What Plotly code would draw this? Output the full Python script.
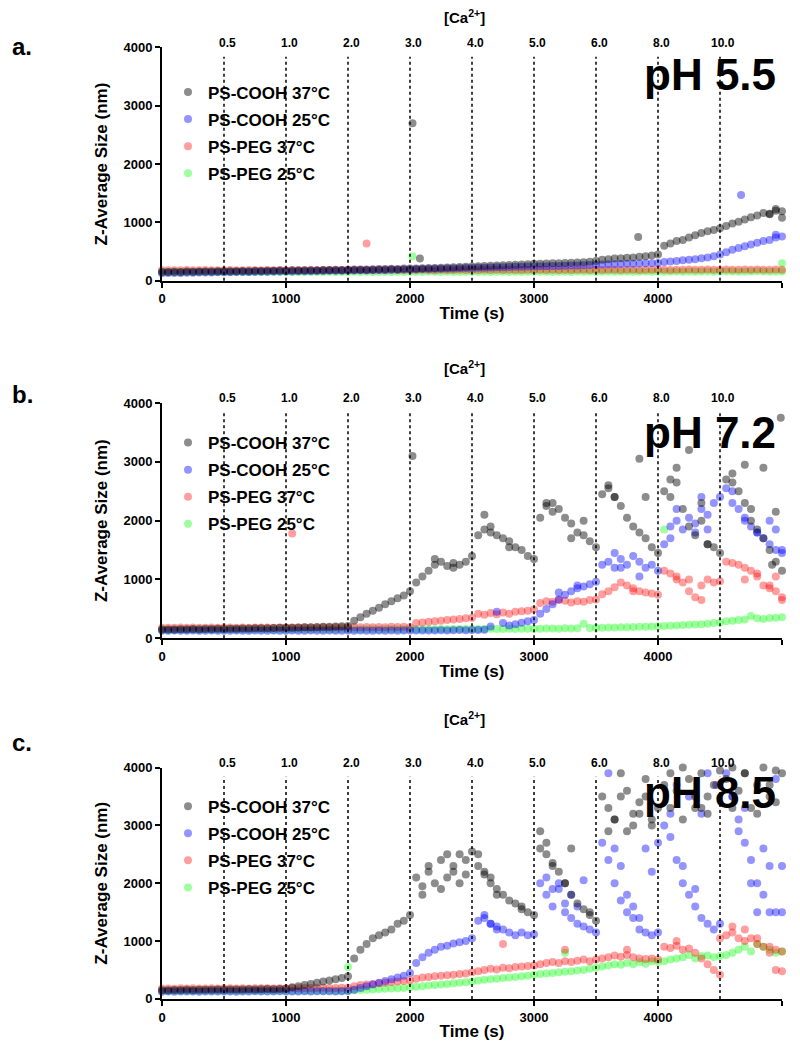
import plotly.graph_objects as go

# ---------------- data ----------------
TIME = list(range(0, 5001, 50))  # sampling grid (s)
CA_TIMES = [500, 1000, 1500, 2000, 2500, 3000, 3500, 4000, 4500]
CA_LABELS = ["0.5", "1.0", "2.0", "3.0", "4.0", "5.0", "6.0", "8.0", "10.0"]
SERIES = ["PS-COOH 37°C", "PS-COOH 25°C", "PS-PEG 37°C", "PS-PEG 25°C"]
PANEL_LETTERS = ["a.", "b.", "c."]
PANEL_PH = ["pH 5.5", "pH 7.2", "pH 8.5"]

# ---- panel a : pH 5.5 ----
A_COOH37 = [150,152,155,150,158,155,160,158,160,162,165,
            163,165,168,165,170,168,172,170,175,172,
            178,175,180,182,180,185,183,188,186,190,
            192,195,193,198,200,202,205,203,208,210,
            212,215,218,220,225,228,230,235,240,245,
            250,255,258,262,265,270,275,278,282,290,
            292,295,298,300,305,310,315,318,325,340,
            360,370,380,385,395,400,410,420,435,450,
            600,640,680,700,740,780,820,850,870,900,
            940,980,1010,1050,1090,1120,1160,1140,1200,1190]
A_COOH37_X = [2020, 2080, 3840, 4950, 5000, 4900]
A_COOH37_Y = [2700, 380, 750, 1230, 1080, 1150]
A_COOH25 = [130,132,135,133,138,136,140,140,142,145,147,
            146,148,150,150,152,155,153,157,158,160,
            160,162,163,165,166,168,170,170,172,175,
            176,178,180,182,183,185,188,190,192,195,
            197,200,202,205,207,210,212,215,218,220,
            222,225,228,230,232,235,238,240,243,245,
            248,250,252,255,258,260,262,265,268,275,
            280,282,285,287,290,292,295,298,300,305,
            320,330,340,350,360,370,385,400,420,450,
            490,530,560,590,620,650,680,700,740,760]
A_COOH25_X = [4670, 4950]
A_COOH25_Y = [1470, 790]
A_PEG37 = [180,178,182,179,183,180,181,184,179,182,180,
           183,181,179,184,182,180,183,181,185,182,
           180,184,182,186,181,183,185,182,184,186,
           183,185,181,186,184,182,187,185,183,186,
           184,187,185,182,188,186,184,187,185,183,
           186,188,184,187,185,189,186,184,188,186,
           187,185,189,186,188,184,190,187,185,188,
           186,189,187,185,190,188,186,189,187,191,
           188,186,190,188,192,187,189,191,188,190,
           192,189,187,191,189,193,190,188,192,190]
A_PEG37_X = [1650]
A_PEG37_Y = [640]
A_PEG25 = [150,148,152,149,151,148,150,153,149,151,150,
           152,149,151,148,153,150,152,149,151,153,
           150,152,149,154,151,150,153,151,149,152,
           154,151,153,150,152,155,151,153,150,154,
           152,150,155,153,151,154,152,150,155,153,
           151,154,152,156,153,151,155,152,154,156,
           153,155,152,156,154,152,157,155,153,156,
           154,157,155,153,158,156,154,157,155,158,
           156,154,158,156,159,155,157,159,156,158,
           160,157,155,159,157,161,158,156,160,158]
A_PEG25_X = [2020, 5000]
A_PEG25_Y = [420, 300]

# ---- panel b : pH 7.2 ----
B_COOH37 = [150,152,150,155,153,158,156,160,158,162,160,
            165,163,168,166,170,172,170,175,178,180,
            182,185,188,190,192,195,198,200,205,210,
            300,360,420,470,520,580,630,680,730,800,
            950,1050,1150,1250,1300,1230,1280,1250,1300,1400,
            1750,1850,1800,1750,1700,1650,1550,1500,1400,1350,
            2050,2250,2300,2200,2050,1950,1800,1750,1650,1550,
            2450,2600,2400,2250,2050,1900,1800,1700,1550,1450,
            2500,2400,2650,2200,1900,1750,2000,1600,1550,1450,
            2700,2650,2500,2300,2000,1850,1700,1500,1300,1150]
B_COOH37_X = [2020, 2600, 2650, 3100, 3150, 3400, 3600, 3650, 3850, 3900,
              4100, 4150, 4250, 4350, 4400, 4600, 4700, 4750, 4850, 4920,
              4950, 4990, 2200, 2350, 2800, 3300]
B_COOH37_Y = [3100, 2100, 1900, 2300, 2150, 2000, 2550, 2400, 3050, 2400,
              2700, 2900, 3200, 2300, 1600, 2800, 2950, 2200, 2900, 1250,
              2150, 3750, 1350, 1200, 1550, 1700]
B_COOH25 = [130,128,132,130,128,133,130,128,132,130,128,
            130,132,128,130,133,130,128,132,130,130,
            132,130,128,133,130,130,132,128,130,132,
            130,133,130,128,132,130,133,130,132,135,
            133,135,132,135,137,135,138,140,138,140,
            142,145,200,450,260,220,240,265,290,310,
            420,500,580,660,740,800,850,880,920,960,
            1250,1300,1200,1350,1250,1400,1300,1200,1250,1150,
            1600,1900,2000,1850,2050,1950,2200,2100,2300,2400,
            2550,2500,2200,2000,1900,1800,1700,1600,1500,1450]
B_COOH25_X = [3650, 3700, 3850, 4100, 4150, 4300, 4350, 4400, 4600, 4700,
              4800, 4900, 4950, 5000, 3200, 3350]
B_COOH25_Y = [1450, 1200, 1050, 1700, 2200, 1800, 2400, 1850, 2300, 2050,
              1800, 2000, 1850, 1500, 780, 900]
B_PEG37 = [180,182,178,183,180,185,182,180,184,181,183,
           185,182,184,180,186,183,185,182,184,186,
           183,185,187,184,186,188,185,187,190,188,
           190,188,192,190,193,190,195,192,195,190,
           260,270,280,290,300,310,320,330,340,350,
           420,400,430,410,440,420,450,460,470,490,
           600,630,620,650,640,610,630,620,650,660,
           750,800,870,950,900,850,800,780,760,740,
           1150,1100,1050,950,800,700,900,1000,950,970,
           1300,1280,1250,1200,1150,1050,900,850,800,700]
B_PEG37_X = [1050, 4250, 4350, 4700, 4800, 4900, 4950, 5000, 3800, 4150]
B_PEG37_Y = [1780, 1000, 650, 1000, 1100, 900, 1050, 650, 800, 1000]
B_PEG25 = [145,148,146,150,147,149,146,150,148,147,150,
           149,147,150,148,151,149,150,148,152,150,
           151,149,152,150,153,151,150,152,154,152,
           153,151,155,153,152,155,154,156,153,155,
           156,154,157,155,158,156,159,157,160,158,
           160,158,162,160,158,162,160,163,161,165,
           163,166,168,165,170,168,172,250,175,180,
           182,185,183,188,190,192,195,198,200,205,
           210,215,220,225,230,235,240,250,260,270,
           290,300,310,320,380,340,330,345,350,360]
B_PEG25_X = [4050]
B_PEG25_Y = [1850]

# ---- panel c : pH 8.5 ----
C_COOH37 = [150,152,155,153,157,155,158,160,158,162,160,
            162,165,163,167,165,168,170,168,172,175,
            200,220,240,260,280,300,320,340,360,390,
            700,850,950,1050,1100,1150,1200,1300,1350,1450,
            2100,1950,2300,2000,2400,2100,2200,2500,2400,2550,
            2300,2200,2100,1900,1800,1700,1650,1550,1500,1450,
            2600,2500,2350,2200,2000,1800,1650,1550,1450,1350,
            3500,3300,3100,3900,3600,3200,3400,3800,3000,3300,
            3700,3900,3600,4000,3800,3300,3900,3500,3700,3950,
            3800,4000,3600,3900,3300,3700,4000,3500,3950,3900]
C_COOH37_X = [2100, 2150, 2250, 2300, 2350, 2450, 2400, 2550, 2600, 2650,
              3100, 3150, 3250, 3300, 3450, 3600, 3650, 3700, 3750, 3800,
              3850, 3900, 3950, 4100, 4200, 4300, 4350, 4400, 4600, 4700,
              4800, 4900, 4950, 2700, 2900, 3050]
C_COOH37_Y = [1800, 2200, 1900, 2500, 2300, 2150, 2000, 2500, 2150, 2000,
              2700, 2300, 2000, 2600, 1500, 2900, 3100, 3500, 2900, 3000,
              3200, 3500, 3100, 3300, 3100, 3500, 3300, 3200, 3300, 3900,
              3200, 3700, 3400, 1800, 1600, 2900]
C_COOH25 = [125,128,126,130,127,129,126,130,128,127,130,
            128,126,130,127,131,128,130,127,132,130,
            130,128,132,130,133,131,132,130,134,135,
            160,190,220,250,280,310,340,370,400,450,
            620,720,800,850,900,920,960,980,1000,1050,
            1350,1400,1300,1250,1200,1150,1100,1150,1100,1120,
            2000,1800,1600,1900,1500,1400,1300,1250,1200,1150,
            2700,2400,2000,1700,1500,1400,1200,1150,1100,1150,
            3000,2800,2400,2000,1800,1600,1400,1300,1200,1300,
            3900,3500,3100,2700,2400,2000,1800,1500,1500,1500]
C_COOH25_X = [2600, 2650, 2700, 3100, 3150, 3200, 3250, 3300, 3350, 3400,
              3600, 3650, 3700, 3750, 3800, 3850, 3900, 3950, 4000, 4100,
              4150, 4200, 4250, 4300, 4350, 4400, 4600, 4650, 4700, 4750,
              4800, 4850, 4900, 4950, 5000, 4470]
C_COOH25_Y = [1450, 1300, 1200, 2100, 1900, 2000, 1650, 1800, 1600, 2050,
              3900, 2600, 2300, 1800, 1600, 1400, 2600, 2200, 2700, 3200,
              3700, 2300, 3500, 1900, 3200, 3900, 3500, 2900, 3300, 2000,
              1500, 2600, 2300, 3800, 2300, 3700]
C_PEG37 = [180,182,178,183,180,185,182,180,184,181,183,
           185,182,184,180,186,183,185,182,184,186,
           188,185,190,187,189,192,190,188,193,195,
           220,240,250,260,270,280,290,300,310,320,
           350,370,380,390,400,410,420,430,440,460,
           480,500,520,510,540,530,550,560,570,580,
           600,620,640,620,650,640,660,680,650,680,
           700,720,750,730,760,720,700,690,700,680,
           900,880,920,850,870,800,700,600,500,420,
           1100,1150,1050,1000,1050,950,900,800,850,820]
C_PEG37_X = [2750, 3250, 3750, 4150, 4600, 4700, 4800, 4950, 5000, 4900, 4500]
C_PEG37_Y = [950, 850, 850, 1000, 1250, 1200, 1050, 500, 480, 900, 1050]
C_PEG25 = [140,142,140,143,141,140,143,142,140,142,141,
           142,140,143,141,142,140,143,141,142,140,
           141,143,140,142,141,143,142,140,142,141,
           150,155,160,165,170,175,180,185,190,200,
           210,220,230,240,250,260,270,280,290,300,
           320,330,340,350,360,370,380,390,400,420,
           430,440,450,460,470,480,490,500,520,540,
           560,580,600,590,620,600,640,610,650,640,
           650,680,700,720,760,700,740,750,720,740,
           760,800,850,900,820,950,900,850,800,820]
C_PEG25_X = [1500, 3250]
C_PEG25_Y = [550, 800]

PANELS = [
    [(A_COOH37, A_COOH37_X, A_COOH37_Y), (A_COOH25, A_COOH25_X, A_COOH25_Y),
     (A_PEG37, A_PEG37_X, A_PEG37_Y), (A_PEG25, A_PEG25_X, A_PEG25_Y)],
    [(B_COOH37, B_COOH37_X, B_COOH37_Y), (B_COOH25, B_COOH25_X, B_COOH25_Y),
     (B_PEG37, B_PEG37_X, B_PEG37_Y), (B_PEG25, B_PEG25_X, B_PEG25_Y)],
    [(C_COOH37, C_COOH37_X, C_COOH37_Y), (C_COOH25, C_COOH25_X, C_COOH25_Y),
     (C_PEG37, C_PEG37_X, C_PEG37_Y), (C_PEG25, C_PEG25_X, C_PEG25_Y)],
]

# ---------------- styling ----------------
COLORS = ["#000000", "#0000ff", "#ff0000", "#00ff00"]
OPAC = [0.45, 0.42, 0.38, 0.38]
FONT = "Liberation Sans, Arial, sans-serif"
OFF = 8                      # page body margin
W, H = 784, 1042
L_T, R_T = 162, 782          # target pixel x of plot left / right (window coords)
L = L_T - OFF
R = OFF + W - R_T
TOPS = [48, 403, 767]
BOTS = [281, 638, 998]
LEG_TOP = [75, 425, 788]
CA_TITLE_Y = [17, 368, 718]
LETTER_Y = [47, 395, 742]
PH_Y = [75, 432, 792]

def py(p):
    q = (p - 7.8) / 0.984     # empirical correction of the rendered offset
    return 1 - (q - OFF) / H

def px(p):
    return (p - L_T) / (R_T - L_T)

fig = go.Figure()
legend_names = ["legend", "legend2", "legend3"]
for k, panel in enumerate(PANELS):
    xa = "x" if k == 0 else f"x{k+1}"
    ya = "y" if k == 0 else f"y{k+1}"
    # draw in reverse so gray is on top
    for s in [3, 2, 1, 0]:
        vals, ex, ey = panel[s]
        xs = TIME[:len(vals)] + ex
        ys = vals + ey
        fig.add_trace(go.Scatter(
            x=xs, y=ys, mode="markers", name=SERIES[s],
            xaxis=xa, yaxis=ya, legend=legend_names[k],
            legendgroup=f"p{k}s{s}", legendrank=s + 1,
            marker=dict(color=COLORS[s], size=8, opacity=OPAC[s], line=dict(width=0)),
            cliponaxis=False, hoverinfo="skip"))

layout = dict(
    width=W, height=H, paper_bgcolor="white", plot_bgcolor="white",
    margin=dict(l=L, r=R, t=0, b=0),
    font=dict(family=FONT, color="black", size=13),
    showlegend=True,
)
axis_common = dict(showline=True, linecolor="black", linewidth=2, ticks="outside",
                   ticklen=5, tickwidth=2, tickcolor="black", showgrid=False, zeroline=False,
                   tickfont=dict(family=FONT, size=13, color="black", weight="bold"))
annotations = []
shapes = []
for k in range(3):
    sx = "" if k == 0 else str(k + 1)
    layout[f"xaxis{sx}"] = dict(axis_common, domain=[0, 1], range=[0, 5000],
                                tickvals=[0, 1000, 2000, 3000, 4000, 5000],
                                anchor=f"y{sx}",
                                title=dict(text="Time (s)", standoff=2,
                                           font=dict(family=FONT, size=17, weight="bold")))
    layout[f"yaxis{sx}"] = dict(axis_common, domain=[py(BOTS[k]), py(TOPS[k])], range=[0, 4000],
                                tickvals=[0, 1000, 2000, 3000, 4000],
                                anchor=f"x{sx}",
                                title=dict(text="Z-Average Size (nm)", standoff=12,
                                           font=dict(family=FONT, size=17, weight="bold")))
    layout[legend_names[k]] = dict(x=px(168), y=py(LEG_TOP[k]), xanchor="left", yanchor="top",
                                   bgcolor="rgba(0,0,0,0)", traceorder="grouped",
                                   tracegroupgap=2,
                                   font=dict(family=FONT, size=17, weight="bold"),
                                   itemsizing="trace")
    for t, lab in zip(CA_TIMES, CA_LABELS):
        shapes.append(dict(type="line", xref=f"x{sx}", yref=f"y{sx} domain",
                           x0=t, x1=t, y0=0, y1=0.96,
                           line=dict(color="black", width=1.5, dash="dot")))
        annotations.append(dict(x=t, y=1.02, xref=f"x{sx}", yref=f"y{sx} domain",
                                text=lab, showarrow=False, xanchor="center", yanchor="middle",
                                xshift=3, font=dict(family=FONT, size=12, weight="bold")))
    annotations.append(dict(x=px(464), y=py(CA_TITLE_Y[k]), xref="paper", yref="paper",
                            text="[Ca<sup>2+</sup>]", showarrow=False, xanchor="center",
                            yanchor="middle", font=dict(family=FONT, size=15, weight="bold")))
    annotations.append(dict(x=px(22), y=py(LETTER_Y[k]), xref="paper", yref="paper",
                            text=PANEL_LETTERS[k], showarrow=False, xanchor="center",
                            yanchor="middle", font=dict(family=FONT, size=24, weight="bold")))
    annotations.append(dict(x=px(778), y=py(PH_Y[k]), xref="paper", yref="paper",
                            text=PANEL_PH[k], showarrow=False, xanchor="right",
                            yanchor="middle", font=dict(family=FONT, size=44, weight="bold")))
layout["annotations"] = annotations
layout["shapes"] = shapes
fig.update_layout(**layout)
fig.write_html("out.html")
